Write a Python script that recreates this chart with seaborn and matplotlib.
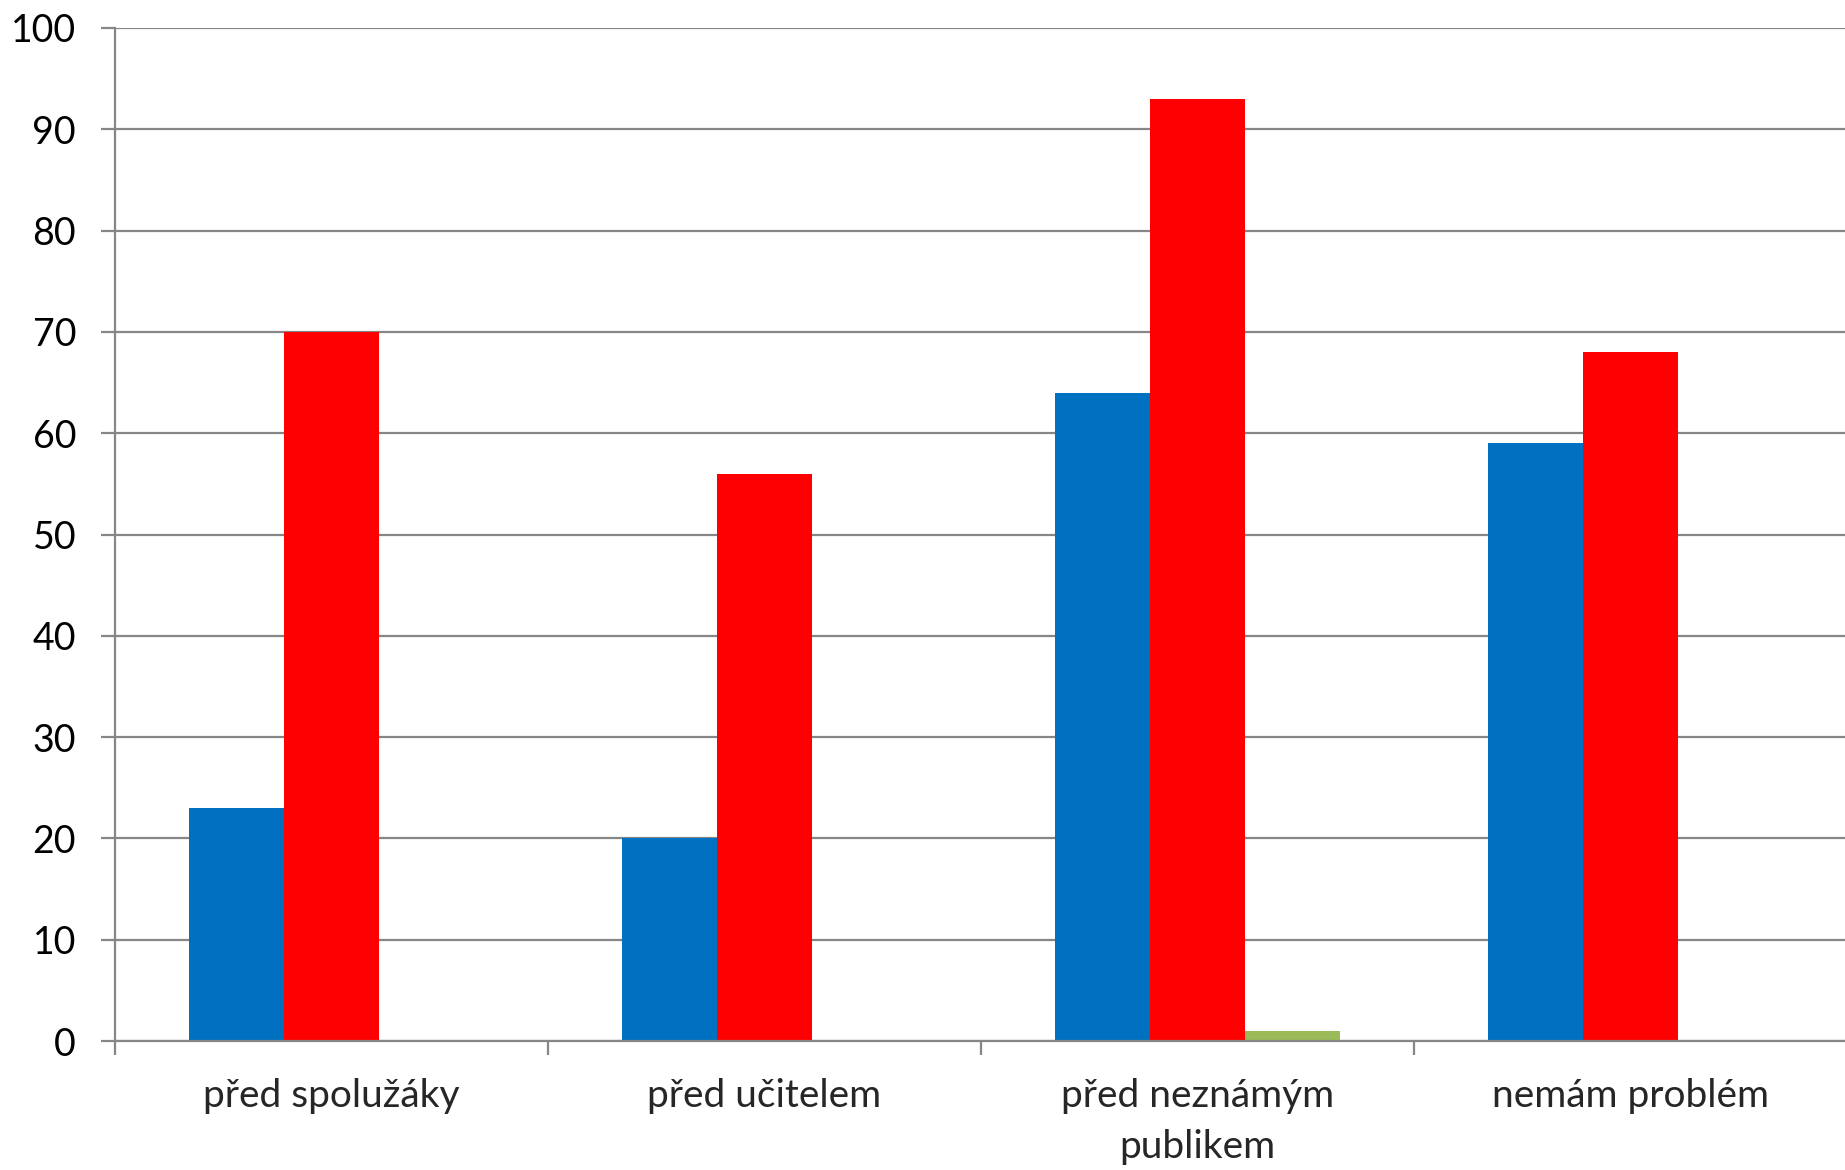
import matplotlib
matplotlib.use("Agg")
import matplotlib.pyplot as plt
import seaborn as sns
import pandas as pd
import numpy as np

categories = ["před spolužáky", "před učitelem", "před neznámým\npublikem", "nemám problém"]
series_names = ["řada 1", "řada 2", "řada 3"]
values_1 = [23, 20, 64, 59]
values_2 = [70, 56, 93, 68]
values_3 = [0, 0, 1, 0]
colors = ["#0070C0", "#FF0000", "#9BBB59"]
y_ticks = [0, 10, 20, 30, 40, 50, 60, 70, 80, 90, 100]

rows = []
for name, vals in zip(series_names, [values_1, values_2, values_3]):
    for c, v in zip(categories, vals):
        rows.append({"kategorie": c, "řada": name, "hodnota": v})
df = pd.DataFrame(rows)

sns.set_theme(style="white")
plt.rcParams["font.family"] = ["Lato", "DejaVu Sans"]

W, H = 1845, 1170
fig = plt.figure(figsize=(W / 100, H / 100), dpi=100)
x0, x1, y0, y1 = 115, 1847, 28, 1041
ax = fig.add_axes([x0 / W, (H - y1) / H, (x1 - x0) / W, (y1 - y0) / H])

sns.barplot(data=df, x="kategorie", y="hodnota", hue="řada", order=categories,
            hue_order=series_names, palette=colors, width=0.66, dodge=True,
            saturation=1, linewidth=0, edgecolor="none", legend=False, ax=ax)

grid_c = "#868686"
ax.set_ylim(0, 100)
ax.set_xlim(-0.5, len(categories) - 0.5)
ax.set_yticks(y_ticks)
ax.set_yticklabels([str(t) for t in y_ticks])
ax.yaxis.grid(True, color=grid_c, linewidth=1.6)
ax.set_axisbelow(True)

ax.set_xticks(np.arange(len(categories) + 1) - 0.5)
ax.set_xticklabels([])
ax.set_xticks(np.arange(len(categories)), minor=True)
ax.set_xticklabels(categories, minor=True, fontsize=28, linespacing=1.5)
ax.tick_params(axis="x", which="major", length=10, width=1.6, color=grid_c, direction="out", bottom=True)
ax.tick_params(axis="x", which="minor", length=0, pad=27)
ax.tick_params(axis="y", length=10, width=1.6, color=grid_c, direction="out", left=True, labelsize=27, pad=18, labelcolor="black")
ax.set_xlabel("")
ax.set_ylabel("")

for s in ["top", "right"]:
    ax.spines[s].set_visible(False)
for s in ["left", "bottom"]:
    ax.spines[s].set_color(grid_c)
    ax.spines[s].set_linewidth(1.6)

fig.savefig("out.png", dpi=100, facecolor="white")
